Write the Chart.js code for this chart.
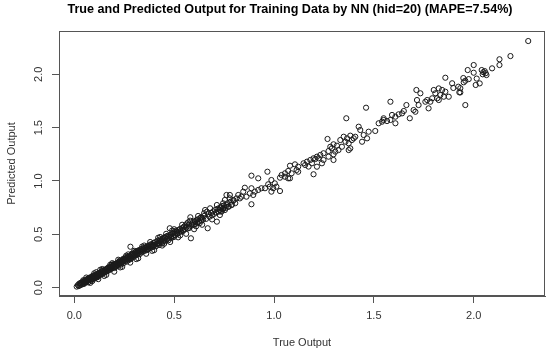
<!DOCTYPE html>
<html>
<head>
<meta charset="utf-8">
<title>NN hid=20 training</title>
<script src="https://cdn.jsdelivr.net/npm/chart.js@4/dist/chart.umd.min.js"></script>
<style>
  html, body { margin: 0; padding: 0; background: #fff; }
  #chartWrap { width: 550px; height: 355px; }
</style>
</head>
<body>
<div id="chartWrap"><canvas id="scatterChart" width="550" height="355"></canvas></div>
<script>
// === DATI ===
const mainTitle = 'True and Predicted Output for Training Data by NN (hid=20) (MAPE=7.54%)';
const xTitle = 'True Output';
const yTitle = 'Predicted Output';
const xTicks = [0.0, 0.5, 1.0, 1.5, 2.0];
const yTicks = [0.0, 0.5, 1.0, 1.5, 2.0];

// zona densa 0 - 0.35
const trueLow = [
  0.012,0.018,0.022,0.025,0.028,0.031,0.034,0.036,0.039,0.041,
  0.044,0.046,0.048,0.051,0.053,0.055,0.057,0.060,0.062,0.064,
  0.066,0.068,0.070,0.072,0.075,0.077,0.079,0.081,0.083,0.085,
  0.087,0.089,0.091,0.093,0.095,0.097,0.099,0.101,0.103,0.105,
  0.108,0.110,0.112,0.114,0.116,0.119,0.121,0.123,0.125,0.128,
  0.130,0.132,0.135,0.137,0.139,0.142,0.144,0.146,0.149,0.151,
  0.153,0.156,0.158,0.160,0.163,0.165,0.168,0.170,0.172,0.175,
  0.177,0.180,0.182,0.185,0.187,0.190,0.192,0.195,0.197,0.200,
  0.202,0.205,0.207,0.210,0.212,0.215,0.217,0.220,0.222,0.225,
  0.227,0.230,0.232,0.235,0.237,0.240,0.242,0.245,0.247,0.250,
  0.252,0.255,0.257,0.260,0.262,0.265,0.267,0.270,0.272,0.275,
  0.277,0.280,0.281,0.283,0.285,0.288,0.290,0.293,0.295,0.298,
  0.300,0.303,0.305,0.308,0.310,0.313,0.315,0.318,0.320,0.323,
  0.325,0.328,0.330,0.333,0.335,0.338,0.340,0.343,0.345,0.348,
  0.030,0.048,0.058,0.073,0.088,0.102,0.118,0.134,0.148,0.162,
  0.178,0.193,0.208,0.223,0.238,0.253,0.268,0.284,0.299,0.314,
  0.140,0.170,0.198,0.228,0.258,0.288,0.318,0.186,0.246,0.306,
  0.060,0.080,0.100,0.120,0.140,0.160,0.180,0.200,0.220,0.240,
  0.260,0.280,0.300,0.320,0.340,0.070,0.110,0.150,0.190,0.230,
  0.270,0.310,0.045,0.090,0.130
];
const predLow = [
  0.010,0.025,0.015,0.038,0.022,0.030,0.045,0.028,0.050,0.036,
  0.060,0.041,0.055,0.047,0.068,0.052,0.062,0.075,0.058,0.070,
  0.082,0.064,0.074,0.090,0.071,0.086,0.096,0.078,0.092,0.070,
  0.101,0.085,0.110,0.094,0.082,0.104,0.115,0.096,0.108,0.090,
  0.120,0.103,0.126,0.112,0.098,0.130,0.115,0.138,0.119,0.124,
  0.142,0.121,0.133,0.150,0.128,0.145,0.158,0.137,0.152,0.166,
  0.144,0.160,0.172,0.151,0.168,0.179,0.157,0.184,0.165,0.176,
  0.192,0.170,0.186,0.199,0.178,0.204,0.188,0.210,0.195,0.184,
  0.215,0.199,0.222,0.205,0.228,0.212,0.236,0.219,0.206,0.240,
  0.226,0.248,0.232,0.218,0.252,0.239,0.262,0.245,0.230,0.258,
  0.270,0.250,0.263,0.276,0.244,0.281,0.266,0.290,0.258,0.275,
  0.296,0.268,0.384,0.290,0.304,0.281,0.310,0.295,0.318,0.288,
  0.312,0.330,0.301,0.322,0.340,0.308,0.335,0.318,0.346,0.326,
  0.352,0.315,0.339,0.360,0.330,0.348,0.366,0.338,0.357,0.372,
  0.042,0.035,0.048,0.080,0.098,0.088,0.108,0.128,0.141,0.175,
  0.183,0.201,0.196,0.230,0.244,0.262,0.283,0.275,0.305,0.328,
  0.160,0.190,0.222,0.255,0.286,0.318,0.345,0.215,0.272,0.335,
  0.095,0.045,0.135,0.080,0.175,0.120,0.215,0.150,0.262,0.195,
  0.300,0.235,0.345,0.275,0.385,0.050,0.145,0.110,0.230,0.190,
  0.312,0.268,0.070,0.062,0.168
];

// zona media 0.35 - 0.81
const trueMid = [
  0.352,0.355,0.358,0.361,0.364,0.367,0.370,0.373,0.376,0.379,
  0.382,0.385,0.388,0.391,0.394,0.397,0.400,0.403,0.406,0.409,
  0.412,0.415,0.418,0.421,0.424,0.427,0.430,0.433,0.436,0.439,
  0.442,0.445,0.448,0.451,0.454,0.457,0.460,0.463,0.466,0.469,
  0.472,0.475,0.478,0.481,0.484,0.487,0.490,0.493,0.496,0.499,
  0.502,0.506,0.510,0.513,0.517,0.521,0.525,0.529,0.533,0.537,
  0.541,0.545,0.549,0.553,0.557,0.561,0.565,0.569,0.573,0.577,
  0.581,0.584,0.588,0.592,0.596,0.600,0.604,0.608,0.612,0.616,
  0.620,0.624,0.628,0.632,0.636,0.640,0.645,0.650,0.655,0.660,
  0.664,0.668,0.672,0.677,0.680,0.685,0.690,0.695,0.700,0.705,
  0.710,0.714,0.714,0.718,0.722,0.726,0.730,0.735,0.740,0.745,
  0.365,0.395,0.425,0.455,0.485,0.515,0.545,0.575,0.605,0.635,
  0.735,0.742,0.750,0.758,0.766,0.774,0.782,0.790,0.798,0.806,
  0.360,0.380,0.400,0.420,0.440,0.460,0.480,0.500,0.520,0.540,
  0.560,0.580,0.600,0.620,0.640,0.350,0.390,0.430,0.450,0.490,
  0.530,0.570,0.610,0.650,0.690
];
const predMid = [
  0.345,0.368,0.380,0.352,0.375,0.390,0.362,0.385,0.398,0.370,
  0.395,0.408,0.378,0.402,0.385,0.418,0.396,0.425,0.404,0.388,
  0.430,0.410,0.442,0.418,0.400,0.438,0.452,0.425,0.446,0.415,
  0.458,0.432,0.470,0.445,0.462,0.436,0.478,0.452,0.486,0.460,
  0.445,0.490,0.557,0.472,0.498,0.466,0.505,0.482,0.515,0.475,
  0.520,0.492,0.535,0.525,0.505,0.540,0.515,0.550,0.528,0.545,
  0.560,0.532,0.572,0.548,0.585,0.565,0.603,0.555,0.590,0.575,
  0.660,0.463,0.600,0.585,0.612,0.592,0.625,0.598,0.634,0.610,
  0.642,0.618,0.605,0.655,0.628,0.650,0.638,0.672,0.728,0.645,
  0.712,0.557,0.690,0.665,0.744,0.700,0.678,0.715,0.692,0.728,
  0.705,0.775,0.619,0.740,0.712,0.730,0.752,0.720,0.765,0.738,
  0.358,0.400,0.415,0.470,0.478,0.508,0.540,0.560,0.615,0.660,
  0.752,0.735,0.770,0.748,0.790,0.760,0.805,0.778,0.818,0.792,
  0.318,0.428,0.352,0.468,0.395,0.505,0.428,0.548,0.472,0.590,
  0.505,0.628,0.548,0.672,0.590,0.395,0.345,0.475,0.412,0.535,
  0.490,0.612,0.575,0.698,0.640
];

// zona alta 0.73 - 2.3 (punti sparsi)
const trueHigh = [
  0.967,0.887,0.921,1.080,1.105,1.121,1.113,1.071,1.088,1.055,
  1.038,1.030,1.080,1.055,1.071,1.121,0.987,1.004,0.971,0.979,
  0.996,1.030,0.955,1.012,0.987,0.937,0.921,0.904,0.887,0.896,
  0.879,0.854,0.846,0.862,0.837,0.821,0.812,0.829,0.796,0.779,
  0.779,0.762,0.754,0.745,0.762,0.745,0.737,0.770,0.754,0.787,
  0.729,0.887,
  1.461,1.362,1.524,1.549,1.507,1.474,1.432,1.424,1.449,1.466,
  1.441,1.407,1.399,1.382,1.366,1.349,1.358,1.374,1.332,1.390,
  1.268,1.298,1.315,1.282,1.323,1.307,1.290,1.340,1.273,1.374,
  1.382,1.248,1.232,1.215,1.207,1.198,1.182,1.165,1.156,1.173,
  1.148,1.190,1.223,1.298,1.273,1.298,1.248,1.240,1.215,1.198,
  1.948,1.858,1.892,1.923,1.898,1.928,1.800,1.825,1.842,1.858,
  1.808,1.833,1.850,1.875,1.817,1.792,1.767,1.758,1.783,1.825,
  1.713,1.733,1.716,1.724,1.699,1.708,1.774,1.663,1.650,1.641,
  1.624,1.608,1.591,1.583,1.566,1.549,1.541,1.583,1.680,1.608,
  2.273,2.184,2.129,2.129,2.092,2.064,2.040,2.048,2.055,2.060,
  2.045,2.000,1.970,2.000,1.958,1.950,1.975,2.015,2.030,2.010,
  1.933,1.933,1.958
];
const predHigh = [
  1.087,1.050,1.025,1.143,1.156,1.134,1.103,1.094,1.072,1.072,
  1.056,1.031,1.025,1.040,1.025,1.087,1.009,0.978,0.969,0.947,
  0.932,0.906,0.932,0.947,0.900,0.932,0.916,0.900,0.932,0.869,
  0.884,0.937,0.900,0.853,0.853,0.869,0.837,0.837,0.822,0.837,
  0.869,0.869,0.822,0.791,0.775,0.744,0.712,0.759,0.728,0.775,
  0.681,0.782,
  1.687,1.588,1.541,1.572,1.469,1.462,1.478,1.509,1.431,1.400,
  1.368,1.415,1.400,1.425,1.400,1.415,1.368,1.353,1.384,1.384,
  1.394,1.344,1.331,1.321,1.290,1.275,1.306,1.321,1.281,1.290,
  1.306,1.260,1.244,1.228,1.206,1.213,1.197,1.181,1.150,1.135,
  1.166,1.166,1.213,1.250,1.228,1.197,1.197,1.166,1.134,1.063,
  1.965,1.968,1.916,1.884,1.872,1.831,1.853,1.868,1.853,1.837,
  1.822,1.806,1.790,1.790,1.775,1.775,1.759,1.743,1.743,1.759,
  1.853,1.822,1.759,1.712,1.665,1.649,1.681,1.712,1.656,1.634,
  1.625,1.603,1.619,1.572,1.562,1.588,1.556,1.743,1.588,1.541,
  2.312,2.171,2.141,2.087,2.056,1.993,2.040,2.020,2.030,2.010,
  2.000,2.087,2.040,2.015,1.940,1.925,1.955,1.960,1.915,1.900,
  1.870,1.830,1.712
];

const trueOutput = [...trueLow, ...trueMid, ...trueHigh];
const predictedOutput = [...predLow, ...predMid, ...predHigh];

// === GRAFICO ===
const FONT = '"Liberation Sans", Arial, sans-serif';
const AXIS_GREY = '#555';

// box intorno all'area + titolo stile R
const rBoxPlugin = {
  id: 'rBox',
  afterDraw(chart) {
    const { ctx, chartArea: a } = chart;
    ctx.save();
    ctx.strokeStyle = AXIS_GREY;
    ctx.lineWidth = 1;
    ctx.strokeRect(a.left + 0.5, a.top + 0.5, a.right - a.left - 1, a.bottom - a.top - 1);
    ctx.fillStyle = '#000';
    ctx.font = 'bold 12.6px ' + FONT;
    ctx.textAlign = 'center';
    ctx.textBaseline = 'middle';
    ctx.fillText(mainTitle, 290, 10);
    ctx.restore();
  }
};

window.addEventListener('DOMContentLoaded', () => {
  const ctx = document.getElementById('scatterChart').getContext('2d');
  window.scatterChart = new Chart(ctx, {
    type: 'scatter',
    data: {
      datasets: [{
        label: 'NN hid=20',
        data: trueOutput.map((x, i) => ({ x: x, y: predictedOutput[i] })),
        pointStyle: 'circle',
        pointRadius: 2.6,
        borderColor: '#1a1a1a',
        borderWidth: 1,
        backgroundColor: 'rgba(0,0,0,0)'
      }]
    },
    options: {
      responsive: false,
      animation: false,
      layout: { padding: { top: 31, right: 5, left: 0, bottom: 0 } },
      plugins: {
        legend: { display: false },
        tooltip: { enabled: false },
        title: { display: false }
      },
      scales: {
        x: {
          type: 'linear',
          min: -0.0766,
          max: 2.357,
          afterFit: s => { s.height = 59; },
          afterBuildTicks: s => { s.ticks = xTicks.map(v => ({ value: v })); },
          grid: { display: true, drawOnChartArea: false, drawTicks: true, tickLength: 7, tickColor: AXIS_GREY },
          border: { display: true, color: AXIS_GREY },
          ticks: {
            color: '#333',
            font: { family: FONT, size: 11 },
            padding: 6,
            maxRotation: 0,
            callback: v => Number(v).toFixed(1)
          },
          title: {
            display: true,
            text: xTitle,
            color: '#333',
            font: { family: FONT, size: 11 },
            padding: { top: 0, bottom: 5 }
          }
        },
        y: {
          type: 'linear',
          min: -0.078,
          max: 2.406,
          afterFit: s => { s.width = 59; },
          afterBuildTicks: s => { s.ticks = yTicks.map(v => ({ value: v })); },
          grid: { display: true, drawOnChartArea: false, drawTicks: true, tickLength: 7, tickColor: AXIS_GREY },
          border: { display: true, color: AXIS_GREY },
          ticks: {
            color: '#333',
            font: { family: FONT, size: 11 },
            padding: 5,
            minRotation: 90,
            maxRotation: 90,
            crossAlign: 'center',
            callback: v => Number(v).toFixed(1)
          },
          title: {
            display: true,
            text: yTitle,
            color: '#333',
            font: { family: FONT, size: 11 },
            padding: { top: 5, bottom: 0 }
          }
        }
      }
    },
    plugins: [rBoxPlugin]
  });
});
</script>
</body>
</html>
